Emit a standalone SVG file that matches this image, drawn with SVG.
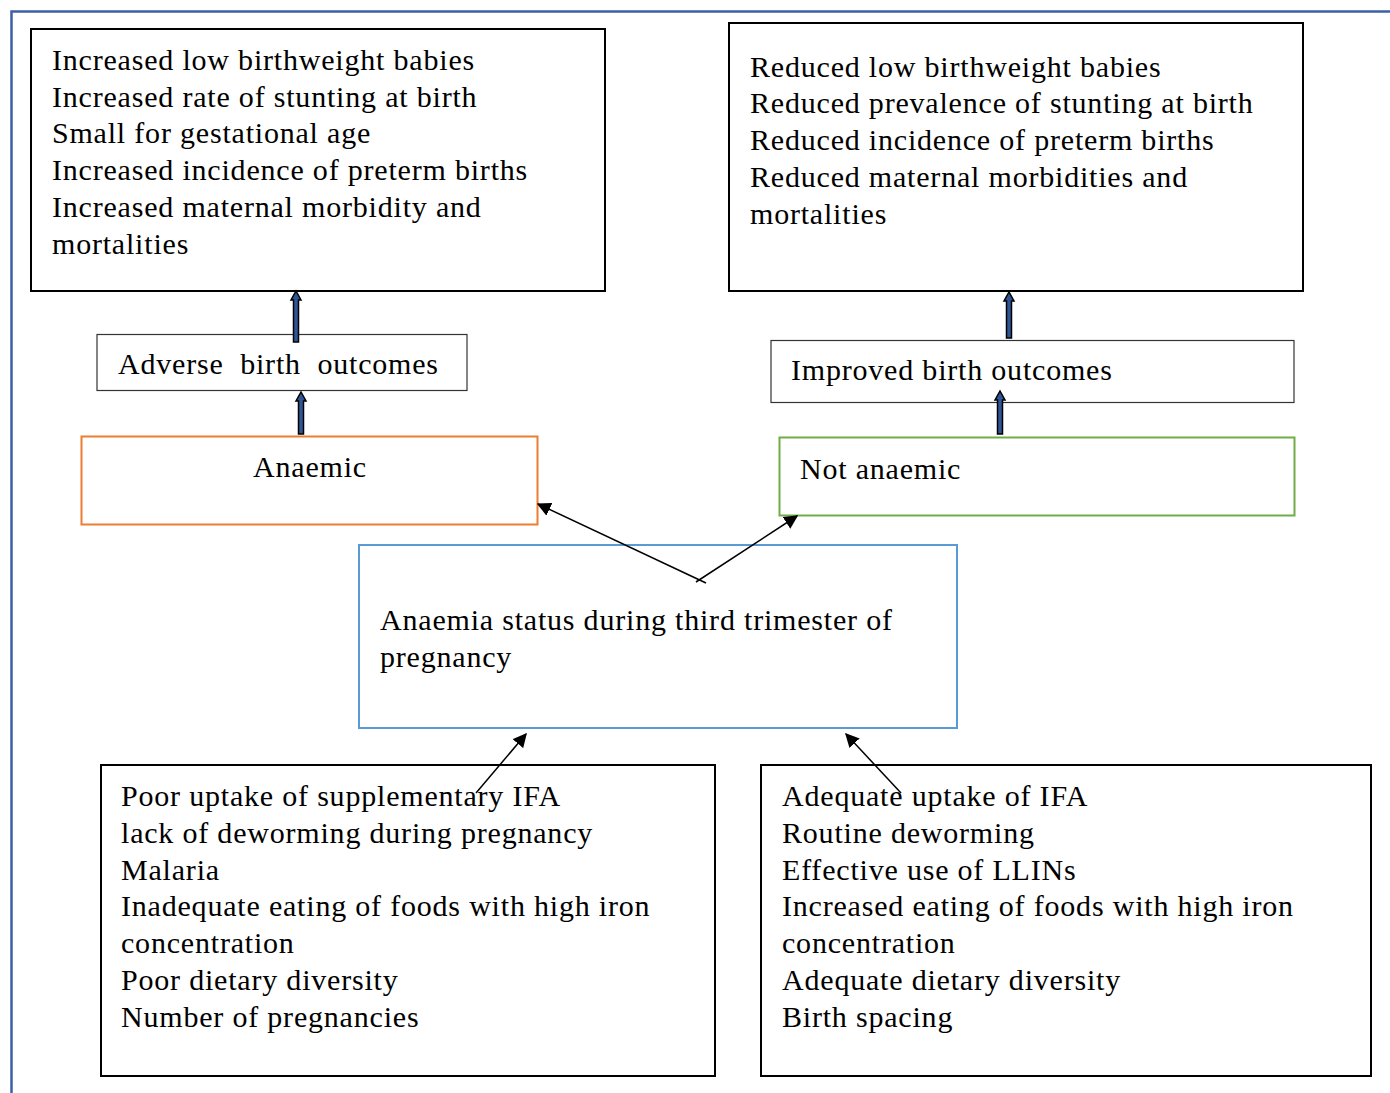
<svg xmlns="http://www.w3.org/2000/svg" width="1390" height="1093" viewBox="0 0 1390 1093">
<style>
text{font-family:"Liberation Serif","Times New Roman",serif;font-size:30px;letter-spacing:0.8px;fill:#000;white-space:pre}
.box{fill:#fff;stroke:#000;stroke-width:2}
.thin{fill:#fff;stroke:#333;stroke-width:1.2}
.fat{fill:#2f5597;stroke:#000;stroke-width:1.5}
.ln{stroke:#000;stroke-width:1.5;fill:none}
</style>
<defs>
<marker id="ah" viewBox="0 0 10 10" refX="9" refY="5" markerWidth="14" markerHeight="14" markerUnits="userSpaceOnUse" orient="auto">
<path d="M0,0 L10,5 L0,10 z" fill="#000"/>
</marker>
</defs>
<rect width="1390" height="1093" fill="#fff"/>
<g id="frame"><path d="M11.5,1093 V11.5 H1390" fill="none" stroke="#3d5fa6" stroke-width="2.5"/></g>

<g id="n-adverse-effects">
<rect class="box" x="31" y="29" width="574" height="262"/>
<text x="52" y="70">Increased low birthweight babies</text>
<text x="52" y="107">Increased rate of stunting at birth</text>
<text x="52" y="143">Small for gestational age</text>
<text x="52" y="180">Increased incidence of preterm births</text>
<text x="52" y="217">Increased maternal morbidity and</text>
<text x="52" y="254">mortalities</text>
</g>

<g id="n-reduced-effects">
<rect class="box" x="729" y="23" width="574" height="268"/>
<text x="750" y="77">Reduced low birthweight babies</text>
<text x="750" y="113">Reduced prevalence of stunting at birth</text>
<text x="750" y="150">Reduced incidence of preterm births</text>
<text x="750" y="187">Reduced maternal morbidities and</text>
<text x="750" y="224">mortalities</text>
</g>

<g id="n-adverse">
<rect class="thin" x="97" y="334.5" width="370" height="56"/>
<text x="118" y="374">Adverse  birth  outcomes</text>
</g>

<g id="n-improved">
<rect class="thin" x="771" y="340.5" width="523" height="62"/>
<text x="791" y="380">Improved birth outcomes</text>
</g>

<g id="n-anaemic">
<rect x="81.5" y="436.5" width="456" height="88" fill="#fff" stroke="#ed7d31" stroke-width="2"/>
<text x="253" y="477">Anaemic</text>
</g>

<g id="n-not-anaemic">
<rect x="779.5" y="437.5" width="515" height="78" fill="#fff" stroke="#70ad47" stroke-width="2"/>
<text x="800" y="479">Not anaemic</text>
</g>

<g id="n-status">
<rect x="359" y="545" width="598" height="183" fill="#fff" stroke="#5b9bd5" stroke-width="2"/>
<text x="380" y="630">Anaemia status during third trimester of</text>
<text x="380" y="667">pregnancy</text>
</g>

<g id="n-risk">
<rect class="box" x="101" y="765" width="614" height="311"/>
<text x="121" y="806">Poor uptake of supplementary IFA</text>
<text x="121" y="843">lack of deworming during pregnancy</text>
<text x="121" y="880">Malaria</text>
<text x="121" y="916">Inadequate eating of foods with high iron</text>
<text x="121" y="953">concentration</text>
<text x="121" y="990">Poor dietary diversity</text>
<text x="121" y="1027">Number of pregnancies</text>
</g>

<g id="n-protective">
<rect class="box" x="761" y="765" width="610" height="311"/>
<text x="782" y="806">Adequate uptake of IFA</text>
<text x="782" y="843">Routine deworming</text>
<text x="782" y="880">Effective use of LLINs</text>
<text x="782" y="916">Increased eating of foods with high iron</text>
<text x="782" y="953">concentration</text>
<text x="782" y="990">Adequate dietary diversity</text>
<text x="782" y="1027">Birth spacing</text>
</g>

<g id="connectors">
<path class="fat" d="M293.5,342 V300 H291 L296,291 L301,300 H298.5 V342 Z"/>
<path class="fat" d="M298.5,434 V401 H296 L301,392 L306,401 H303.5 V434 Z"/>
<path class="fat" d="M1006.5,338 V301 H1004 L1009,292 L1014,301 H1011.5 V338 Z"/>
<path class="fat" d="M997.5,434 V400 H995 L1000,391 L1005,400 H1002.5 V434 Z"/>
<line class="ln" x1="706" y1="583" x2="538" y2="504" marker-end="url(#ah)"/>
<line class="ln" x1="696" y1="582" x2="797" y2="516" marker-end="url(#ah)"/>
<line class="ln" x1="476" y1="793" x2="526" y2="734" marker-end="url(#ah)"/>
<line class="ln" x1="901" y1="793" x2="846" y2="734" marker-end="url(#ah)"/>
</g>
</svg>
